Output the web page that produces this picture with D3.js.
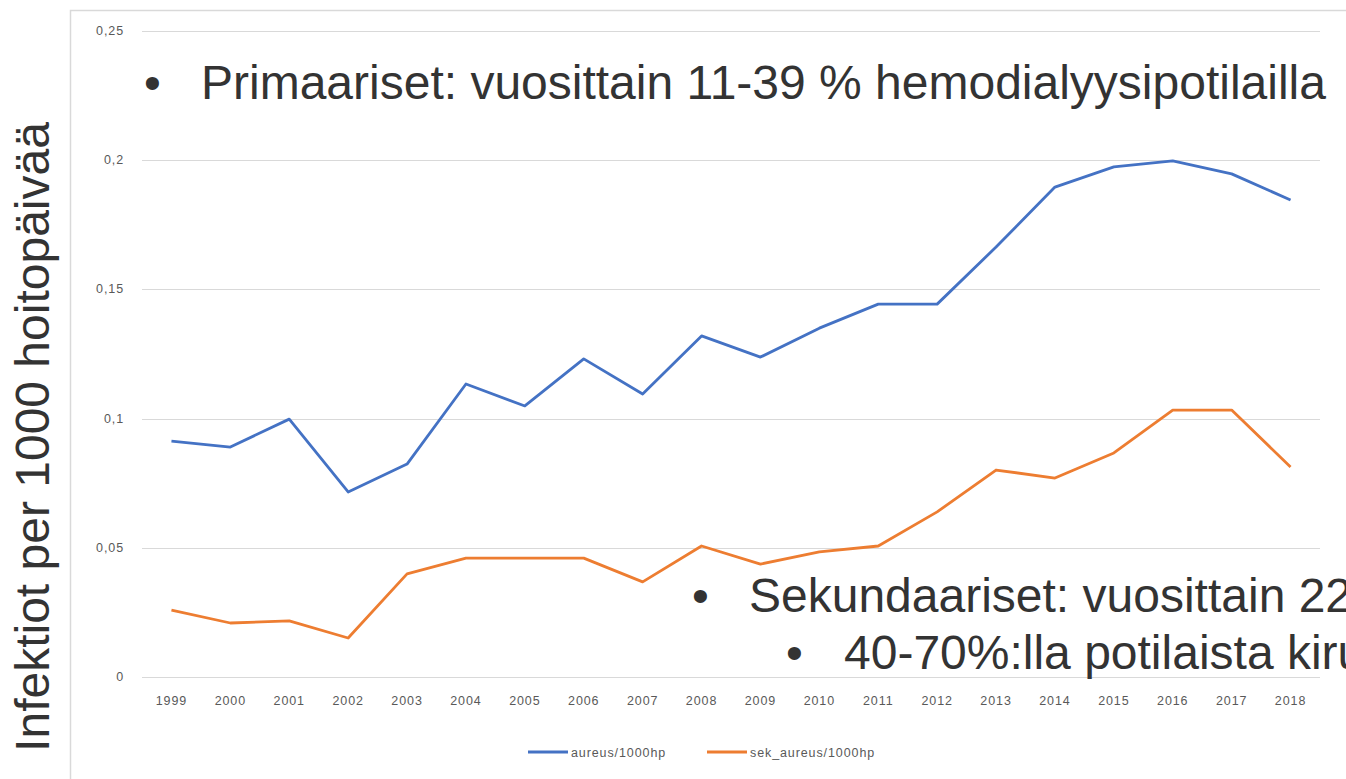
<!DOCTYPE html>
<html>
<head>
<meta charset="utf-8">
<script src="https://d3js.org/d3.v7.min.js"></script>
<style>
  html, body { margin: 0; padding: 0; background: #fff; overflow: hidden; }
  svg { display: block; }
</style>
</head>
<body>
<script>
(function() {

var years   = ["1999","2000","2001","2002","2003","2004","2005","2006","2007","2008",
               "2009","2010","2011","2012","2013","2014","2015","2016","2017","2018"],
    aureus  = [0.0913,0.0890,0.0998,0.0716,0.0824,0.1134,0.1049,0.1231,0.1095,0.1320,
               0.1238,0.1350,0.1443,0.1443,0.1664,0.1896,0.1974,0.1997,0.1947,0.1846],
    sek     = [0.0259,0.0209,0.0217,0.0151,0.0399,0.0460,0.0460,0.0460,0.0368,0.0507,
               0.0437,0.0484,0.0507,0.0639,0.0801,0.0770,0.0867,0.1033,0.1033,0.0813],
    y_ticks = [0, 0.05, 0.1, 0.15, 0.2, 0.25],
    series  = [
      { name: "aureus/1000hp",     values: aureus, color: "#4472c4" },
      { name: "sek_aureus/1000hp", values: sek,    color: "#ed7d31" }
    ],
    // slide text as far as the (cropped) picture shows it
    bullets = [
      { text: "Primaariset: vuosittain 11-39 % hemodialyysipotilailla", bx: 144, tx: 201, y: 99 },
      { text: "Sekundaariset: vuosittain 22",                            bx: 692, tx: 749, y: 612 },
      { text: "40-70%:lla potilaista kiru",                              bx: 786, tx: 844, y: 669 }
    ],
    width  = 1346, height = 779,
    x0 = 142, x1 = 1320, y0 = 677, y1 = 31,
    font_small = "'Liberation Sans', Arial, sans-serif",
    svg, x, y;

function init() {
  svg = d3.select("body")
          .append("svg")
            .attr("width", width)
            .attr("height", height);

  // chart frame (only top and left edges are visible)
  svg.append("path")
    .attr("d", "M70.5," + height + "V10.5H" + width)
    .attr("fill", "none")
    .attr("stroke", "#d9d9d9")
    .attr("stroke-width", 1.5);

  x = d3.scaleBand().domain(years).range([x0, x1]);
  y = d3.scaleLinear().domain([0, 0.25]).range([y0, y1]);
}

function small_text(sel) {
  sel.attr("font-family", font_small)
     .attr("font-size", 12.5)
     .attr("letter-spacing", 0.9)
     .attr("fill", "#595959");
}

function draw_axes() {
  var fmt = function(d) { return d === 0 ? "0" : String(d).replace(".", ","); };

  svg.append("g")
    .selectAll("line")
    .data(y_ticks)
    .enter()
    .append("line")
      .attr("x1", x0).attr("x2", x1)
      .attr("y1", function(d) { return Math.round(y(d)) + 0.5; })
      .attr("y2", function(d) { return Math.round(y(d)) + 0.5; })
      .attr("stroke", "#d9d9d9")
      .attr("stroke-width", 1);

  svg.append("g")
    .selectAll("text")
    .data(y_ticks)
    .enter()
    .append("text")
      .attr("x", 124)
      .attr("y", function(d) { return y(d) + 4; })
      .attr("text-anchor", "end")
      .call(small_text)
      .text(fmt);

  svg.append("g")
    .selectAll("text")
    .data(years)
    .enter()
    .append("text")
      .attr("x", function(d) { return x(d) + x.bandwidth() / 2; })
      .attr("y", 705)
      .attr("text-anchor", "middle")
      .call(small_text)
      .text(function(d) { return d; });
}

function draw_lines() {
  var line = d3.line()
    .x(function(d, i) { return x(years[i]) + x.bandwidth() / 2; })
    .y(function(d) { return y(d); });

  svg.append("g")
    .selectAll("path")
    .data(series)
    .enter()
    .append("path")
      .attr("d", function(s) { return line(s.values); })
      .attr("fill", "none")
      .attr("stroke", function(s) { return s.color; })
      .attr("stroke-width", 2.8)
      .attr("stroke-linejoin", "round");
}

function draw_legend() {
  var offs = [528, 707],
      g = svg.append("g")
        .selectAll("g")
        .data(series)
        .enter()
        .append("g")
          .attr("transform", function(d, i) { return "translate(" + offs[i] + ",752)"; });

  g.append("line")
    .attr("x1", 0).attr("x2", 40)
    .attr("stroke", function(d) { return d.color; })
    .attr("stroke-width", 2.8);

  g.append("text")
    .attr("x", 43)
    .attr("y", 4.5)
    .call(small_text)
    .text(function(d) { return d.name; });
}

function draw_notes() {
  var g = svg.append("g")
    .attr("font-family", "'Liberation Sans', Arial, sans-serif")
    .attr("font-size", 48)
    .attr("fill", "#333333");

  g.selectAll("text.bul")
    .data(bullets)
    .enter()
    .append("text")
      .attr("class", "bul")
      .attr("x", function(d) { return d.bx; })
      .attr("y", function(d) { return d.y; })
      .text("\u2022");

  g.selectAll("text.txt")
    .data(bullets)
    .enter()
    .append("text")
      .attr("class", "txt")
      .attr("x", function(d) { return d.tx; })
      .attr("y", function(d) { return d.y; })
      .text(function(d) { return d.text; });

  svg.append("text")
    .attr("transform", "translate(49,437) rotate(-90)")
    .attr("text-anchor", "middle")
    .attr("font-family", "'Liberation Sans', Arial, sans-serif")
    .attr("font-size", 48)
    .attr("fill", "#333333")
    .text("Infektiot per 1000 hoitopäivää");
}

/* main */
init();
draw_axes();
draw_lines();
draw_legend();
draw_notes();

}());
</script>
</body>
</html>
